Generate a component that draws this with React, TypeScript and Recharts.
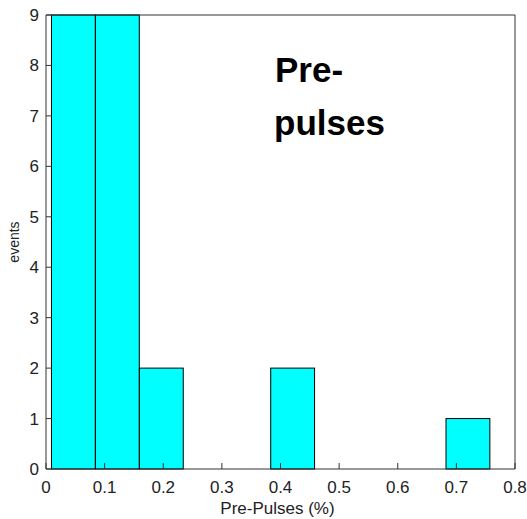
import { ComposedChart, Bar, XAxis, YAxis } from 'recharts';

// histogram bins (centre of each bin) and event counts
const binCenters = [0.047, 0.122, 0.197, 0.271, 0.346, 0.421, 0.496, 0.57, 0.645, 0.72];
const counts = [9, 9, 2, 0, 0, 2, 0, 0, 0, 1];
const binWidth = 0.0748;

const xTicks = [0, 0.1, 0.2, 0.3, 0.4, 0.5, 0.6, 0.7, 0.8];
const yTicks = [0, 1, 2, 3, 4, 5, 6, 7, 8, 9];

const data = binCenters.map((c, i) => ({ center: c, count: counts[i] }));

const W = 527;
const H = 519;
const leftW = 46;
const rightW = 12;
const topH = 15;
const bottomH = 50;
const plotW = W - leftW - rightW;
const barSize = (binWidth * plotW) / (xTicks[xTicks.length - 1] - xTicks[0]);

const FONT = '"Liberation Sans", Arial, sans-serif';
const TXT = '#222';

// bin rect centred on the bar position, full bin width (no gaps, like hist)
const BinShape = (props: any) => {
    const { x, y, width, height } = props;
    if (!height || height <= 0) return null;
    const cx = x + width / 2;
    return (
        <rect
            x={cx - barSize / 2}
            y={y}
            width={barSize}
            height={height}
            fill="#00FFFF"
            stroke="#000"
            strokeWidth={1}
        />
    );
};

const App = () => {
    return (
        <div style={{ position: 'absolute', left: 0, top: 0, background: '#fff' }}>
            <ComposedChart
                width={W}
                height={H}
                data={data}
                margin={{ top: 0, right: 0, bottom: 0, left: 0 }}
                barGap={0}
                barCategoryGap={0}
            >
                <XAxis
                    dataKey="center"
                    type="number"
                    domain={[0, 0.8]}
                    ticks={xTicks}
                    tickFormatter={(v: number) => String(v)}
                    height={bottomH}
                    tickSize={-6}
                    tickMargin={18}
                    stroke="#333"
                    tick={{ fontSize: 17, fill: TXT, fontFamily: FONT }}
                    label={(p: any) => {
                        const vb = p.viewBox;
                        return (
                            <text
                                x={vb.x + vb.width / 2 - 3}
                                y={514}
                                textAnchor="middle"
                                fontSize={17}
                                fontFamily={FONT}
                                fill={TXT}
                            >
                                Pre-Pulses (%)
                            </text>
                        );
                    }}
                />
                <XAxis
                    xAxisId="top"
                    orientation="top"
                    dataKey="center"
                    type="number"
                    domain={[0, 0.8]}
                    ticks={xTicks}
                    height={topH}
                    tickSize={-6}
                    tick={false}
                    stroke="#333"
                />
                <YAxis
                    type="number"
                    domain={[0, 9]}
                    ticks={yTicks}
                    width={leftW}
                    tickSize={-6}
                    tickMargin={13}
                    stroke="#333"
                    tick={{ fontSize: 17, fill: TXT, fontFamily: FONT }}
                    label={(p: any) => {
                        const vb = p.viewBox;
                        const cy = vb.y + vb.height / 2;
                        return (
                            <text
                                x={14}
                                y={cy}
                                transform={`rotate(-90 14 ${cy})`}
                                textAnchor="middle"
                                dominantBaseline="central"
                                fontSize={14}
                                fontFamily={FONT}
                                fill={TXT}
                            >
                                events
                            </text>
                        );
                    }}
                />
                <YAxis
                    yAxisId="right"
                    orientation="right"
                    type="number"
                    domain={[0, 9]}
                    ticks={yTicks}
                    width={rightW}
                    tickSize={-6}
                    tick={false}
                    stroke="#333"
                />
                <Bar
                    dataKey="count"
                    fill="#00FFFF"
                    stroke="#000"
                    barSize={barSize}
                    shape={BinShape}
                    isAnimationActive={false}
                />
                <text x={275} y={82} fontSize={35} fontWeight="bold" fontFamily={FONT} fill="#000">
                    Pre-
                </text>
                <text x={274} y={135} fontSize={35} fontWeight="bold" fontFamily={FONT} fill="#000">
                    pulses
                </text>
            </ComposedChart>
        </div>
    );
};

export default App;
